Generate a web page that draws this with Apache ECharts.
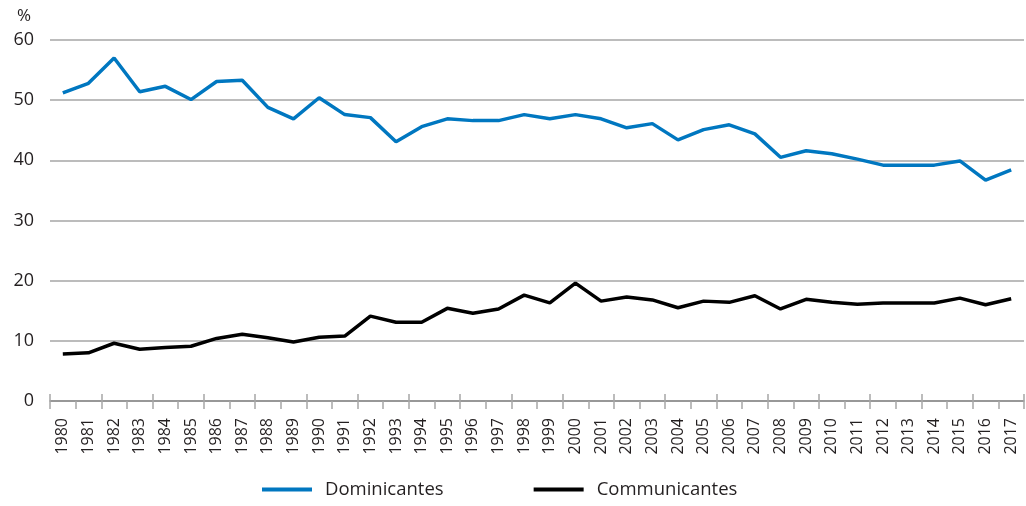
<!DOCTYPE html>
<html>
<head>
<meta charset="utf-8">
<script src="https://cdn.jsdelivr.net/npm/echarts@6/dist/echarts.min.js"></script>
<style>
  html, body { margin: 0; padding: 0; background: #fff; }
  #chart { width: 1026px; height: 506px; }
</style>
</head>
<body>
<div id="chart"></div>
<script>
// 年份
const years = ['1980','1981','1982','1983','1984','1985','1986','1987','1988','1989',
  '1990','1991','1992','1993','1994','1995','1996','1997','1998','1999',
  '2000','2001','2002','2003','2004','2005','2006','2007','2008','2009',
  '2010','2011','2012','2013','2014','2015','2016','2017']

// 数据 (%)
const dominicantes = [51.2, 52.8, 57.0, 51.4, 52.3, 50.1, 53.1, 53.3, 48.8, 46.9,
  50.4, 47.6, 47.1, 43.1, 45.6, 46.9, 46.6, 46.6, 47.6, 46.9,
  47.6, 46.9, 45.4, 46.1, 43.4, 45.1, 45.9, 44.4, 40.5, 41.6,
  41.1, 40.2, 39.2, 39.2, 39.2, 39.9, 36.7, 38.4]
const communicantes = [7.8, 8.0, 9.6, 8.6, 8.9, 9.1, 10.4, 11.1, 10.5, 9.8,
  10.6, 10.8, 14.1, 13.1, 13.1, 15.4, 14.6, 15.3, 17.6, 16.3,
  19.6, 16.6, 17.3, 16.8, 15.5, 16.6, 16.4, 17.5, 15.3, 16.9,
  16.4, 16.1, 16.3, 16.3, 16.3, 17.1, 16.0, 17.0]

const font = '"Open Sans", sans-serif'
const textColor = '#231f20'

const chart = echarts.init(document.getElementById('chart'))

chart.setOption({
  animation: false,
  title: {
    text: '%',
    left: 12,
    top: 3,
    textStyle: { fontFamily: font, fontSize: 17, fontWeight: 'normal', color: textColor }
  },
  grid: { left: 50, right: 2, top: 40, bottom: 105, containLabel: false },
  legend: {
    left: 257,
    bottom: 2,
    itemWidth: 50,
    itemHeight: 4,
    itemGap: 90,
    icon: 'rect',
    textStyle: { fontFamily: font, fontSize: 18.5, color: textColor, padding: [0, 0, 0, 8] },
    data: ['Dominicantes', 'Communicantes']
  },
  xAxis: [{
    type: 'category',
    data: years,
    boundaryGap: true,
    axisLine: { lineStyle: { color: '#8c8c8c', width: 1.5 } },
    axisTick: { show: true, length: 8, lineStyle: { color: '#a6a6a6', width: 1.5 } },
    axisLabel: { rotate: 90, fontFamily: font, fontSize: 16, color: textColor, margin: 17, interval: 0 }
  }, {
    type: 'category',
    data: years,
    position: 'bottom',
    boundaryGap: true,
    axisLine: { show: false },
    axisTick: { show: true, inside: true, length: 7, lineStyle: { color: '#a6a6a6', width: 1.5 } },
    axisLabel: { show: false }
  }],
  yAxis: {
    type: 'value',
    min: 0,
    max: 60,
    interval: 10,
    axisLine: { show: false },
    axisTick: { show: false },
    axisLabel: { fontFamily: font, fontSize: 18, color: textColor, margin: 16 },
    splitLine: { lineStyle: { color: '#a6a6a6', width: 1.5 } }
  },
  series: [{
    name: 'Dominicantes',
    type: 'line',
    data: dominicantes,
    symbol: 'none',
    lineStyle: { color: '#0077c0', width: 3.5 },
    itemStyle: { color: '#0077c0' }
  }, {
    name: 'Communicantes',
    type: 'line',
    data: communicantes,
    symbol: 'none',
    lineStyle: { color: '#000000', width: 3.5 },
    itemStyle: { color: '#000000' }
  }]
})
</script>
</body>
</html>
